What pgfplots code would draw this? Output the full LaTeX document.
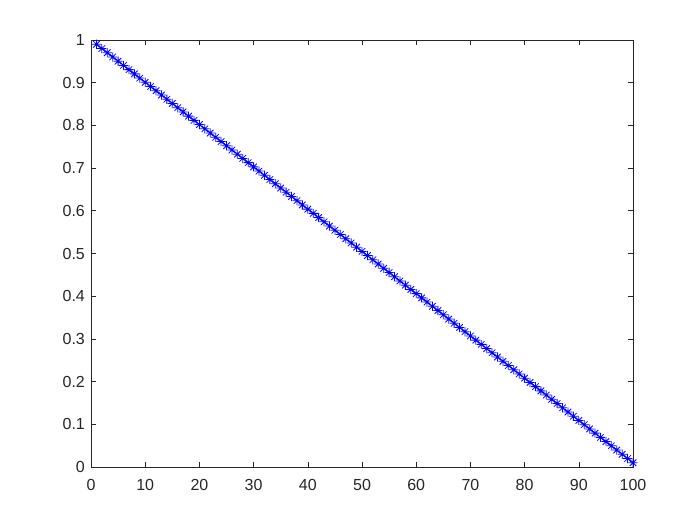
\documentclass[border=0pt]{standalone}
\usepackage{fontspec}
\setmainfont{Liberation Sans}
\usepackage{pgfplots}
\pgfplotsset{compat=1.18}
\definecolor{axgray}{RGB}{38,38,38}
% MATLAB-style asterisk: plus and cross together
\pgfdeclareplotmark{mstar}{%
  \pgfpathmoveto{\pgfqpoint{-\pgfplotmarksize}{0pt}}%
  \pgfpathlineto{\pgfqpoint{\pgfplotmarksize}{0pt}}%
  \pgfpathmoveto{\pgfqpoint{0pt}{-\pgfplotmarksize}}%
  \pgfpathlineto{\pgfqpoint{0pt}{\pgfplotmarksize}}%
  \pgfpathmoveto{\pgfqpoint{-0.707\pgfplotmarksize}{-0.707\pgfplotmarksize}}%
  \pgfpathlineto{\pgfqpoint{0.707\pgfplotmarksize}{0.707\pgfplotmarksize}}%
  \pgfpathmoveto{\pgfqpoint{-0.707\pgfplotmarksize}{0.707\pgfplotmarksize}}%
  \pgfpathlineto{\pgfqpoint{0.707\pgfplotmarksize}{-0.707\pgfplotmarksize}}%
  \pgfusepathqstroke}
\begin{document}
\begin{tikzpicture}
\path[use as bounding box] (-91pt,-58pt) rectangle (609pt,467pt);
\begin{axis}[
    at={(0,0)}, anchor=south west,
    scale only axis,
    width=542pt, height=427pt,
    xmin=0, xmax=100, ymin=0, ymax=1,
    xtick={0,10,...,100},
    ytick={0,0.1,...,1},
    yticklabels={0,0.1,0.2,0.3,0.4,0.5,0.6,0.7,0.8,0.9,1},
    tick align=inside,
    major tick length=5pt,
    axis line style={axgray},
    tick style={axgray, line width=0.6pt},
    every axis/.append style={line width=0.6pt},
    tick label style={font=\fontsize{16}{17}\selectfont, text=axgray},
    xticklabel style={yshift=-9pt},
    yticklabel style={xshift=-2.5pt},
    /pgf/number format/assume math mode=true,
    clip=false,
]
\addplot[color=blue, draw=blue, mark=mstar, mark size=4.6pt, line width=0.8pt,
         mark options={draw=blue, solid}] coordinates {
(1,0.9900)(2,0.9801)(3,0.9702)(4,0.9603)(5,0.9504)(6,0.9405)(7,0.9306)(8,0.9207)(9,0.9108)(10,0.9009)
(11,0.8910)(12,0.8811)(13,0.8712)(14,0.8613)(15,0.8514)(16,0.8415)(17,0.8316)(18,0.8217)(19,0.8118)(20,0.8019)
(21,0.7920)(22,0.7821)(23,0.7722)(24,0.7623)(25,0.7524)(26,0.7425)(27,0.7326)(28,0.7227)(29,0.7128)(30,0.7029)
(31,0.6930)(32,0.6831)(33,0.6732)(34,0.6633)(35,0.6534)(36,0.6435)(37,0.6336)(38,0.6237)(39,0.6138)(40,0.6039)
(41,0.5940)(42,0.5841)(43,0.5742)(44,0.5643)(45,0.5544)(46,0.5445)(47,0.5346)(48,0.5247)(49,0.5148)(50,0.5049)
(51,0.4951)(52,0.4852)(53,0.4753)(54,0.4654)(55,0.4555)(56,0.4456)(57,0.4357)(58,0.4258)(59,0.4159)(60,0.4060)
(61,0.3961)(62,0.3862)(63,0.3763)(64,0.3664)(65,0.3565)(66,0.3466)(67,0.3367)(68,0.3268)(69,0.3169)(70,0.3070)
(71,0.2971)(72,0.2872)(73,0.2773)(74,0.2674)(75,0.2575)(76,0.2476)(77,0.2377)(78,0.2278)(79,0.2179)(80,0.2080)
(81,0.1981)(82,0.1882)(83,0.1783)(84,0.1684)(85,0.1585)(86,0.1486)(87,0.1387)(88,0.1288)(89,0.1189)(90,0.1090)
(91,0.0991)(92,0.0892)(93,0.0793)(94,0.0694)(95,0.0595)(96,0.0496)(97,0.0397)(98,0.0298)(99,0.0199)(100,0.0100)
};
\end{axis}
\end{tikzpicture}
\end{document}
